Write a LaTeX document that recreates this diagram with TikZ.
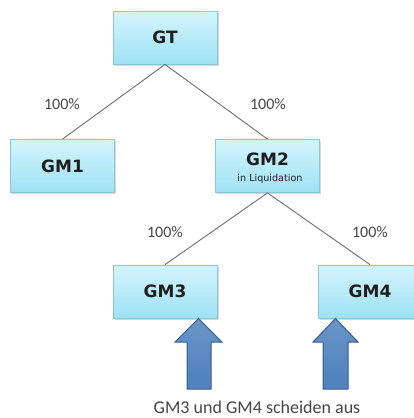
\documentclass[tikz,border=0pt]{standalone}
\usepackage{fontspec}
\setmainfont{Carlito}
\newfontfamily\boxfont{DejaVu Sans}
\usetikzlibrary{shadows}
\definecolor{boxtop}{RGB}{212,244,252}
\definecolor{boxbot}{RGB}{158,226,245}
\definecolor{boxline}{RGB}{140,196,218}
\definecolor{linkc}{RGB}{110,110,110}
\definecolor{arrfill}{RGB}{79,129,189}
\definecolor{arrline}{RGB}{56,93,138}
\definecolor{txtc}{RGB}{30,30,30}
\definecolor{pctc}{RGB}{70,70,70}
\tikzset{
  company/.style={draw=boxline, line width=0.8pt, top color=boxtop, bottom color=boxbot,
    minimum width=104pt, minimum height=53pt, inner sep=0pt, align=center,
    font=\boxfont\bfseries\fontsize{17}{18}\selectfont, text=txtc,
    drop shadow={shadow xshift=1.5pt, shadow yshift=-1.5pt, opacity=0.25, fill=black!60}},
  link/.style={draw=linkc, line width=0.9pt},
  pct/.style={font=\fontsize{16}{16}\selectfont, text=pctc, inner sep=0pt},
  uparrow/.style={draw=arrline, line width=1pt, top color=arrfill!85!white, bottom color=arrfill, line join=miter},
  note/.style={font=\fontsize{18}{19}\selectfont, text=pctc, inner sep=0pt, anchor=base}
}
\begin{document}
\begin{tikzpicture}[x=1pt, y=-1pt]
\useasboundingbox (0,0) rectangle (414,418);
\clip (0,0) rectangle (414,418);
\fill[white] (0,0) rectangle (414,418);
\node[company] (gt)  at (165,37.5) {GT};
\node[company] (gm1) at (62.5,166) {GM1};
\node[company] (gm2) at (267.5,166) {};
\node[font=\boxfont\bfseries\fontsize{17}{18}\selectfont, text=txtc, inner sep=0pt] (gm2t) at (267.5,159.5) {GM2};
\node[font=\boxfont\fontsize{9.6}{10}\selectfont, text=txtc, inner sep=0pt] (gm2s) at (270,178.5) {in Liquidation};
\node[company] (gm3) at (165,291.5) {GM3};
\node[company] (gm4) at (370,291.5) {GM4};
\draw[link] (gt.south) -- (gm1.north);
\draw[link] (gt.south) -- (gm2.north);
\draw[link] (gm2.south) -- (gm3.north);
\draw[link] (gm2.south) -- (gm4.north);
\node[pct] (p1) at (62,104) {100\%};
\node[pct] (p2) at (268,104) {100\%};
\node[pct] (p3) at (165,232) {100\%};
\node[pct] (p4) at (370,232) {100\%};
\draw[uparrow] (198.5,318.5) -- (222,342) -- (211,342) -- (211,389) -- (187,389) -- (187,342) -- (175,342) -- cycle;
\draw[uparrow] (335.5,318.5) -- (358,342) -- (348,342) -- (348,389) -- (323,389) -- (323,342) -- (313,342) -- cycle;
\node[note] (txt) at (257,413.5) {GM3 und GM4 scheiden aus};
\end{tikzpicture}
\end{document}
